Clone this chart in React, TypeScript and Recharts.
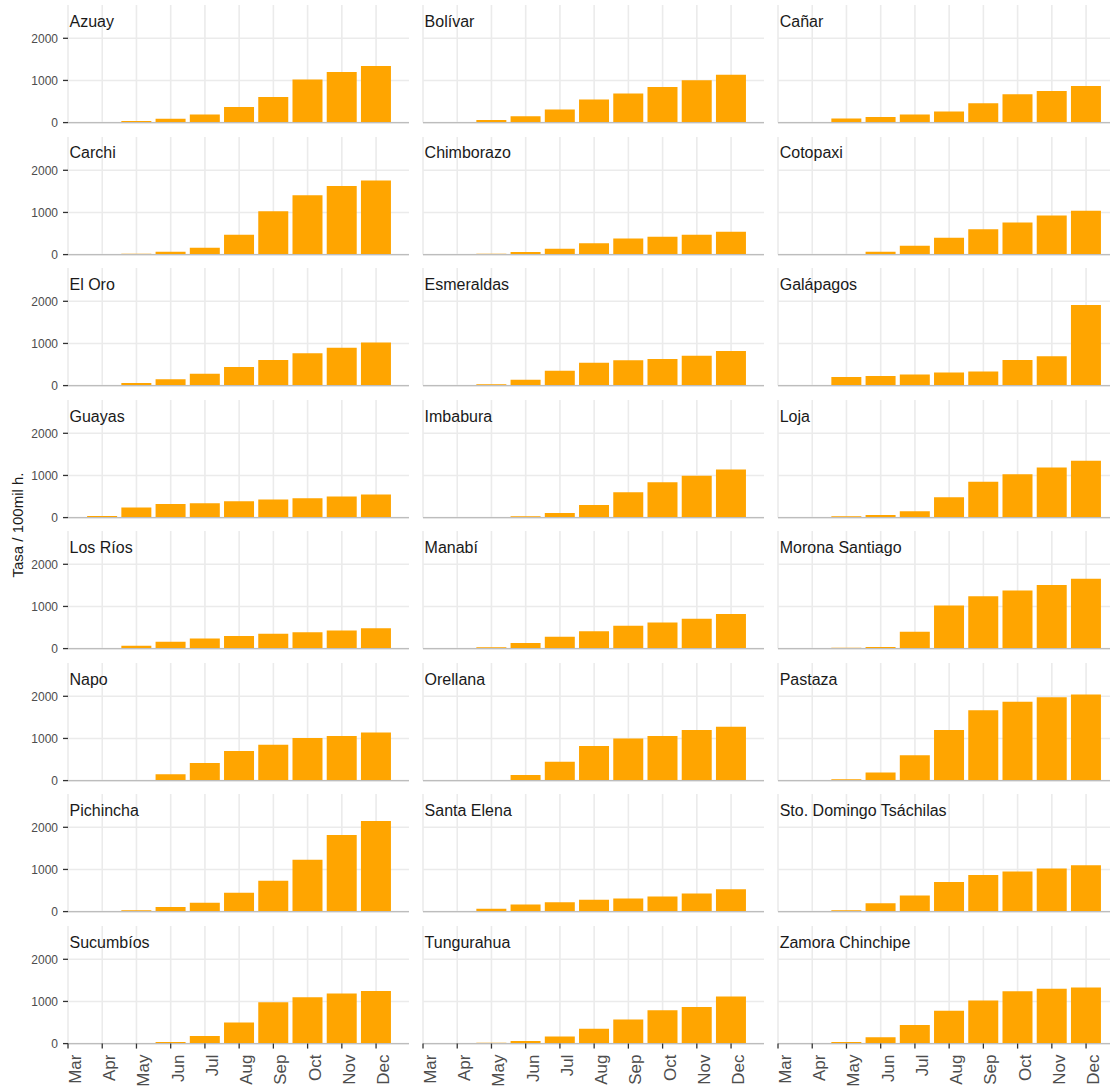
import React from 'react';
import { BarChart, Bar, XAxis, YAxis, CartesianGrid } from 'recharts';

const months = ['Mar', 'Apr', 'May', 'Jun', 'Jul', 'Aug', 'Sep', 'Oct', 'Nov', 'Dec'];
const monthIdx = months.map((_, i) => i);
const yTicks = [0, 1000, 2000];

// tasa acumulada por provincia, Mar..Dec
const azuay = [0, 0, 40, 90, 190, 370, 610, 1020, 1200, 1340];
const bolivar = [0, 0, 60, 150, 310, 545, 690, 845, 1005, 1135];
const canar = [0, 0, 100, 135, 195, 262, 460, 675, 750, 870];
const carchi = [0, 0, 20, 70, 160, 470, 1030, 1410, 1630, 1760];
const chimborazo = [0, 0, 20, 60, 140, 270, 380, 425, 470, 540];
const cotopaxi = [0, 0, 0, 70, 210, 400, 600, 760, 930, 1040];
const elOro = [0, 0, 60, 150, 280, 440, 610, 770, 900, 1020];
const esmeraldas = [0, 0, 30, 140, 350, 540, 600, 630, 710, 820];
const galapagos = [0, 15, 205, 230, 262, 310, 333, 610, 698, 1910];
const guayas = [0, 40, 240, 320, 340, 390, 430, 460, 500, 550];
const imbabura = [0, 0, 15, 30, 110, 300, 600, 840, 990, 1140];
const loja = [0, 0, 30, 60, 150, 480, 850, 1030, 1190, 1350];
const losRios = [0, 0, 70, 160, 240, 300, 350, 390, 430, 480];
const manabi = [0, 0, 30, 130, 280, 410, 540, 620, 710, 820];
const morona = [0, 0, 20, 40, 400, 1020, 1240, 1380, 1510, 1660];
const napo = [0, 0, 10, 150, 420, 700, 850, 1010, 1060, 1140];
const orellana = [0, 0, 10, 130, 450, 820, 1000, 1060, 1200, 1280];
const pastaza = [0, 0, 30, 190, 600, 1200, 1670, 1870, 1980, 2040];
const pichincha = [0, 0, 30, 110, 210, 450, 730, 1230, 1820, 2150];
const santaElena = [0, 0, 70, 170, 220, 280, 310, 360, 430, 530];
const stoDomingo = [0, 0, 30, 200, 380, 700, 870, 950, 1020, 1100];
const sucumbios = [0, 0, 10, 40, 180, 500, 980, 1100, 1190, 1250];
const tungurahua = [0, 0, 20, 60, 170, 350, 570, 790, 870, 1120];
const zamora = [0, 0, 40, 150, 440, 780, 1020, 1240, 1300, 1330];

const panels = [
  { name: 'Azuay', values: azuay },
  { name: 'Bolívar', values: bolivar },
  { name: 'Cañar', values: canar },
  { name: 'Carchi', values: carchi },
  { name: 'Chimborazo', values: chimborazo },
  { name: 'Cotopaxi', values: cotopaxi },
  { name: 'El Oro', values: elOro },
  { name: 'Esmeraldas', values: esmeraldas },
  { name: 'Galápagos', values: galapagos },
  { name: 'Guayas', values: guayas },
  { name: 'Imbabura', values: imbabura },
  { name: 'Loja', values: loja },
  { name: 'Los Ríos', values: losRios },
  { name: 'Manabí', values: manabi },
  { name: 'Morona Santiago', values: morona },
  { name: 'Napo', values: napo },
  { name: 'Orellana', values: orellana },
  { name: 'Pastaza', values: pastaza },
  { name: 'Pichincha', values: pichincha },
  { name: 'Santa Elena', values: santaElena },
  { name: 'Sto. Domingo Tsáchilas', values: stoDomingo },
  { name: 'Sucumbíos', values: sucumbios },
  { name: 'Tungurahua', values: tungurahua },
  { name: 'Zamora Chinchipe', values: zamora },
];

const FONT = '"Liberation Sans", Arial, Helvetica, sans-serif';
const PANEL_W = 341;
const PANEL_H = 117.6;
const AXIS_W = 60;
const AXIS_H = 45;
const COL_X = 68.2;
const COL_STEP = 355.1;
const ROW_Y = 5;
const ROW_STEP = 131.57;
const X_MAX = 9.962;
const Y_MAX = 2790;
const N_ROWS = 8;

const MonthTick = (props: any) => {
  const { x, y, payload } = props;
  const tx = x + 13;
  return (
    <text
      x={tx}
      y={y}
      transform={`rotate(-90 ${tx} ${y})`}
      textAnchor="end"
      fill="#4d4d4d"
      fontSize={17}
      fontFamily={FONT}
    >
      {months[payload.value]}
    </text>
  );
};

// keeps the ticks (and so the grid lines) but draws no label
const BlankTick = () => <g />;

const Panel = ({ name, values, row, col }: { name: string; values: number[]; row: number; col: number }) => {
  const data = values.map((v, i) => ({ x: i, v }));
  const left = COL_X + col * COL_STEP;
  const top = ROW_Y + row * ROW_STEP;
  const isLeft = col === 0;
  const isBottom = row === N_ROWS - 1;

  return (
    <>
      <div style={{ position: 'absolute', left: left - AXIS_W, top }}>
        <BarChart
          width={AXIS_W + PANEL_W}
          height={PANEL_H + AXIS_H}
          data={data}
          margin={{ top: 0, right: 0, bottom: 0, left: 0 }}
        >
          <CartesianGrid stroke="#ebebeb" strokeWidth={1.6} syncWithTicks />
          <XAxis
            dataKey="x"
            type="number"
            domain={[0, X_MAX]}
            ticks={monthIdx}
            allowDataOverflow
            interval={0}
            height={AXIS_H}
            axisLine={{ stroke: '#bdbdbd', strokeWidth: 1.3 }}
            tickLine={isBottom ? { stroke: '#333333', strokeWidth: 1.3 } : false}
            tickSize={5}
            tickMargin={6}
            tick={isBottom ? <MonthTick /> : <BlankTick />}
          />
          <YAxis
            type="number"
            domain={[0, Y_MAX]}
            ticks={yTicks}
            allowDataOverflow
            interval={0}
            width={AXIS_W}
            axisLine={false}
            tickLine={isLeft ? { stroke: '#333333', strokeWidth: 1.3 } : false}
            tickSize={5}
            tickMargin={5}
            tick={isLeft ? { fill: '#4d4d4d', fontSize: 12, fontFamily: FONT } : <BlankTick />}
          />
          <Bar dataKey="v" fill="#FFA500" barSize={30} isAnimationActive={false} />
        </BarChart>
      </div>
      <div
        style={{
          position: 'absolute',
          left: left + 1.3,
          top: top + 8.8,
          fontSize: 16,
          lineHeight: '16px',
          color: '#1a1a1a',
          fontFamily: FONT,
          whiteSpace: 'nowrap',
        }}
      >
        {name}
      </div>
    </>
  );
};

export default function App() {
  return (
    <div
      style={{
        position: 'absolute',
        left: 0,
        top: 0,
        width: 1110,
        height: 1088,
        overflow: 'hidden',
        background: '#ffffff',
        fontFamily: FONT,
      }}
    >
      {panels.map((p, i) => (
        <Panel key={p.name} name={p.name} values={p.values} row={Math.floor(i / 3)} col={i % 3} />
      ))}
      <div
        style={{
          position: 'absolute',
          left: 17,
          top: 524.5,
          transform: 'translate(-50%, -50%) rotate(-90deg)',
          fontSize: 15,
          color: '#1a1a1a',
          whiteSpace: 'nowrap',
          fontFamily: FONT,
        }}
      >
        Tasa / 100mil h.
      </div>
    </div>
  );
}
